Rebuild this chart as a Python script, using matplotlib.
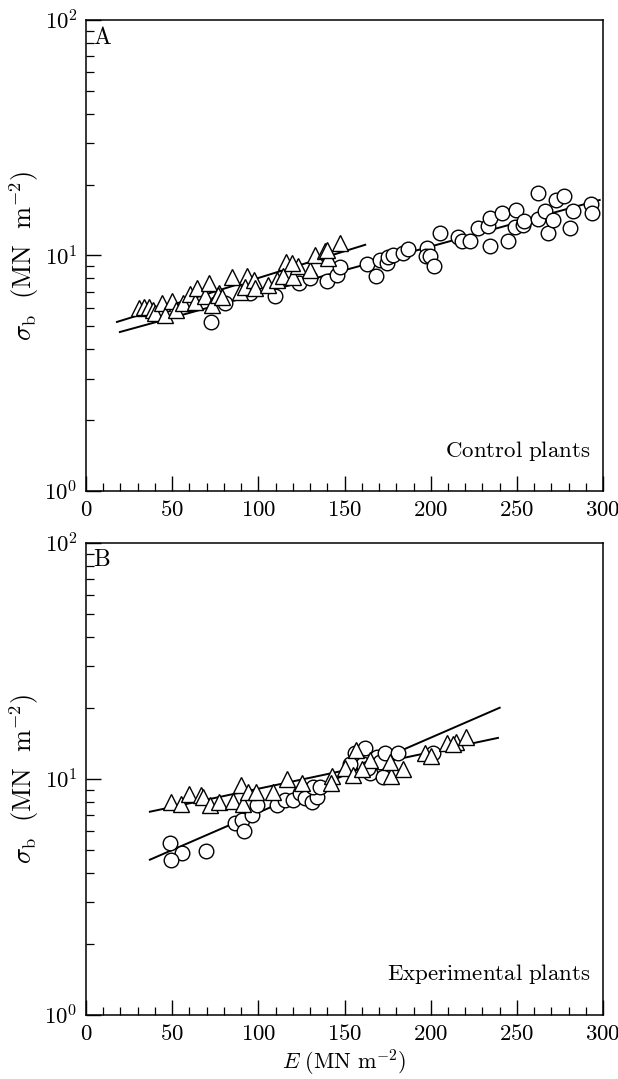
import numpy as np
import matplotlib
matplotlib.use('Agg')
import matplotlib.pyplot as plt
from matplotlib.ticker import MultipleLocator, LogLocator, NullFormatter

plt.rcParams['mathtext.fontset'] = 'cm'
plt.rcParams['font.family'] = ['DejaVu Serif']

# Panel A -- control plants
a_tri_x = [30.7, 33.7, 36.5, 38.9, 40.0, 44.0, 45.8, 50.0, 52.2, 56.3, 60.3, 63.3,
           64.4, 69.0, 71.4, 73.0, 77.2, 76.6, 79.0, 84.7, 89.4, 93.4, 92.3, 97.5,
           98.0, 105.6, 110.8, 116.0, 114.3, 120.0, 123.0, 130.0, 132.9, 138.7,
           140.4, 147.4, 119.5, 139.8]
a_tri_y = [5.98, 6.05, 6.05, 5.87, 5.7, 6.28, 5.6, 6.4, 5.87, 6.3, 6.85, 6.35,
           7.3, 6.7, 7.63, 6.16, 6.9, 6.8, 6.67, 8.1, 7.0, 8.17, 7.35, 7.87,
           7.27, 7.5, 7.87, 9.4, 8.17, 8.1, 9.0, 8.7, 10.05, 10.4,
           9.75, 11.3, 9.3, 10.5]

a_circ_x = [72.5, 80.7, 109.7, 123.6, 139.8, 145.6, 147.4, 163.1, 168.3, 170.6,
            174.7, 175.2, 178.1, 183.9, 186.8, 197.9, 197.3, 199.6, 201.9, 205.4,
            215.9, 218.2, 222.8, 227.5, 233.3, 234.4, 234.4, 241.4, 244.9, 249.5,
            248.9, 253.6, 254.2, 262.3, 262.3, 266.3, 268.1, 271.0, 272.7, 277.4,
            280.9, 282.6, 293.0, 293.6, 95.0, 130.0]
a_circ_y = [5.22, 6.29, 6.73, 7.64, 7.79, 8.26, 8.94, 9.2, 8.18, 9.57,
            9.29, 9.86, 10.05, 10.25, 10.66, 10.76, 9.95, 9.95, 9.02, 12.47,
            11.99, 11.52, 11.52, 13.1, 13.35, 14.43, 10.97, 15.1, 11.52, 15.6,
            13.2, 13.5, 14.0, 18.4, 14.3, 15.5, 12.47, 14.2, 17.2, 17.9,
            13.1, 15.5, 16.6, 15.1, 6.9, 8.0]

a_tri_fit_x = [18, 162]
a_tri_fit_y = [5.22, 11.1]
a_circ_fit_x = [19.7, 298]
a_circ_fit_y = [4.73, 17.2]

# Panel B -- experimental plants
b_tri_x = [49.3, 55.1, 59.8, 66.7, 68.0, 72.0, 77.2, 85.3, 90.0, 91.0, 94.0, 98.6,
           108.5, 116.6, 125.3, 142.7, 142.0, 150.3, 155.0, 156.7, 177.0, 184.0,
           176.4, 196.7, 200.2, 209.5, 214.7, 220.5, 213.0, 165.0, 160.0]
b_tri_y = [8.0, 7.84, 8.64, 8.55, 8.4, 7.76, 8.0, 8.07, 9.4, 7.84, 8.8, 8.8,
           8.8, 10.0, 9.6, 10.3, 9.6, 11.1, 10.4, 13.3, 10.3, 11.0,
           11.8, 12.9, 12.5, 14.2, 14.3, 15.1, 14.0, 12.0, 11.0]

b_circ_x = [48.7, 55.7, 49.3, 69.6, 86.5, 90.5, 91.7, 96.3, 99.2, 110.8, 115.5,
            120.0, 124.2, 127.0, 131.0, 134.0, 131.7, 135.8, 156.0, 161.9, 160.7,
            164.8, 163.6, 168.9, 170.6, 173.5, 172.3, 181.0, 201.4, 153.0]
b_circ_y = [5.36, 4.86, 4.54, 4.95, 6.5, 6.7, 6.0, 7.0, 7.76, 7.76, 8.15,
            8.15, 8.7, 8.3, 8.0, 8.4, 9.25, 9.2, 12.9, 13.5, 11.5,
            10.6, 11.1, 12.4, 11.8, 12.9, 10.2, 12.9, 12.9, 11.6]

b_circ_fit_x = [37.1, 240]
b_circ_fit_y = [4.54, 20.0]
b_tri_fit_x = [37.1, 239]
b_tri_fit_y = [7.25, 14.9]

fig = plt.figure(figsize=(6.18, 10.79), dpi=100)
ax_a = fig.add_axes([0.139, 0.545, 0.837, 0.4365])
ax_b = fig.add_axes([0.139, 0.0595, 0.837, 0.4375])

panels = [
    (ax_a, a_tri_x, a_tri_y, a_circ_x, a_circ_y,
     [(a_tri_fit_x, a_tri_fit_y), (a_circ_fit_x, a_circ_fit_y)],
     'A', 'Control plants'),
    (ax_b, b_tri_x, b_tri_y, b_circ_x, b_circ_y,
     [(b_tri_fit_x, b_tri_fit_y), (b_circ_fit_x, b_circ_fit_y)],
     'B', 'Experimental plants'),
]

for ax, tx, ty, cx, cy, fits, letter, note in panels:
    for fx, fy in fits:
        ax.plot(fx, fy, color='black', lw=1.4, zorder=1)
    ax.plot(cx, cy, 'o', ms=10.5, mfc='white', mec='black', mew=1.0, zorder=2)
    ax.plot(tx, ty, '^', ms=11, mfc='white', mec='black', mew=1.0, zorder=3)

    ax.set_yscale('log')
    ax.set_xlim(0, 300)
    ax.set_ylim(1, 100)
    ax.xaxis.set_minor_locator(MultipleLocator(10))
    ax.yaxis.set_minor_locator(LogLocator(base=10, subs=np.arange(2, 10), numticks=20))
    ax.yaxis.set_minor_formatter(NullFormatter())
    ax.set_xticks([0, 50, 100, 150, 200, 250, 300])
    ax.set_xticklabels(['$%d$' % v for v in [0, 50, 100, 150, 200, 250, 300]])
    ax.set_yticks([1, 10, 100])
    ax.set_yticklabels(['$10^{0}$', '$10^{1}$', '$10^{2}$'])
    ax.tick_params(which='major', direction='in', length=11, width=1.0,
                   labelsize=16.5, pad=6)
    ax.tick_params(which='minor', direction='in', length=6, width=0.9)
    for s in ax.spines.values():
        s.set_linewidth(1.1)

    ax.set_ylabel(r'$\sigma_{\rm b}\ \ ({\rm MN\ \ m^{-2}})$', fontsize=19, labelpad=2)
    ax.text(0.013, 0.988, '$\\rm ' + letter + '$', transform=ax.transAxes,
            ha='left', va='top', fontsize=17)
    ax.text(0.975, 0.06, '$\\rm ' + note.replace(' ', '\\ ') + '$',
            transform=ax.transAxes, ha='right', va='bottom', fontsize=16.5)

ax_b.set_xlabel(r'$E\ ({\rm MN\ m^{-2}})$', fontsize=16, labelpad=2)

fig.savefig('out.png', dpi=100)
